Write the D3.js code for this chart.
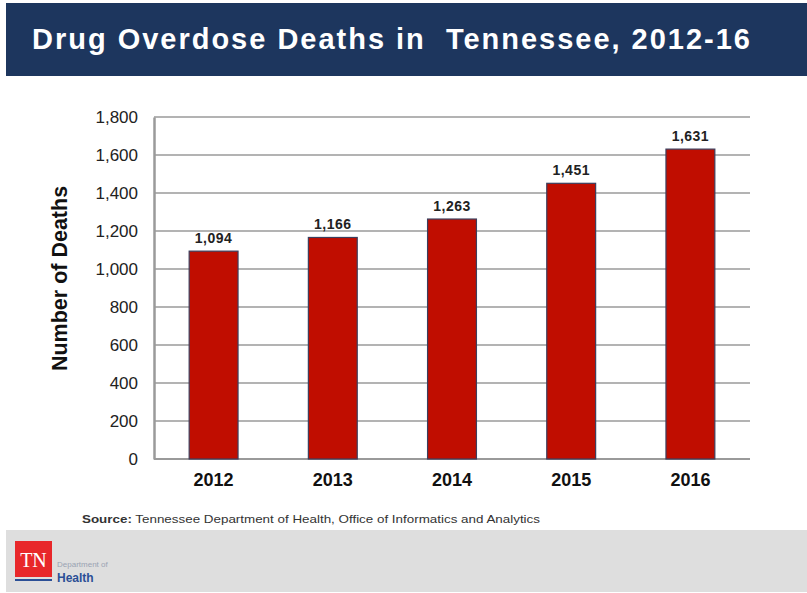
<!DOCTYPE html>
<html>
<head>
<meta charset="utf-8">
<script src="https://cdn.jsdelivr.net/npm/d3@7"></script>
<style>
  html, body { margin: 0; padding: 0; background: #fff; }
  svg { display: block; font-family: "Liberation Sans", Arial, sans-serif; }
</style>
</head>
<body>
<svg id="chart" width="807" height="593"></svg>
<script>
// Drug overdose deaths in Tennessee, by year
const years = ["2012", "2013", "2014", "2015", "2016"];
const deaths = [1094, 1166, 1263, 1451, 1631];
const yTicks = [0, 200, 400, 600, 800, 1000, 1200, 1400, 1600, 1800];

const svg = d3.select("#chart");
const W = 807, H = 593;

// Header band
svg.append("rect").attr("x", 6).attr("y", 3).attr("width", W - 6).attr("height", 73)
  .attr("fill", "#1d365e");
svg.append("text").attr("x", 32).attr("y", 49)
  .attr("fill", "#fff").attr("font-weight", "bold").attr("font-size", 29)
  .style("white-space", "pre")
  .attr("textLength", 718).attr("lengthAdjust", "spacing")
  .text("Drug Overdose Deaths in  Tennessee, 2012-16");

// Plot area
const m = { left: 154, right: 750, top: 117, bottom: 459 };
const x = d3.scaleBand().domain(years).range([m.left, m.right]).paddingInner(0.59).paddingOuter(0.295);
const y = d3.scaleLinear().domain([0, 1800]).range([m.bottom, m.top]);

// Horizontal gridlines
svg.append("g").selectAll("line").data(yTicks.filter(d => d > 0)).join("line")
  .attr("x1", m.left).attr("x2", m.right)
  .attr("y1", d => y(d)).attr("y2", d => y(d))
  .attr("stroke", "#9a9a9a").attr("stroke-width", 1.5);

// Y axis
const yAxis = svg.append("g").attr("transform", `translate(${m.left},0)`)
  .call(d3.axisLeft(y).tickValues(yTicks).tickSize(0).tickPadding(16).tickFormat(d3.format(",")));
yAxis.select(".domain").attr("stroke", "#9a9a9a").attr("stroke-width", 2.5);
yAxis.selectAll("text").attr("font-size", 17).attr("fill", "#222")
  .attr("font-family", "Liberation Sans, Arial, sans-serif");

// X axis
const xAxis = svg.append("g").attr("transform", `translate(0,${m.bottom})`)
  .call(d3.axisBottom(x).tickSize(0).tickPadding(14));
xAxis.select(".domain").attr("stroke", "#9a9a9a").attr("stroke-width", 2)
  .attr("d", `M${m.left},0H${m.right}`);
xAxis.selectAll("text").attr("font-size", 18).attr("font-weight", "bold").attr("fill", "#111")
  .attr("font-family", "Liberation Sans, Arial, sans-serif");

// Bars
svg.append("g").selectAll("rect").data(years).join("rect")
  .attr("x", d => x(d)).attr("width", x.bandwidth())
  .attr("y", (d, i) => y(deaths[i])).attr("height", (d, i) => y(0) - y(deaths[i]))
  .attr("fill", "#c00d00").attr("stroke", "#3b3f5e").attr("stroke-width", 1.2);

// Value labels
svg.append("g").selectAll("text").data(years).join("text")
  .attr("x", d => x(d) + x.bandwidth() / 2)
  .attr("y", (d, i) => y(deaths[i]) - 8)
  .attr("text-anchor", "middle").attr("font-size", 14).attr("font-weight", "bold").attr("fill", "#222")
  .attr("letter-spacing", 0.5)
  .text((d, i) => d3.format(",")(deaths[i]));

// Y axis title
svg.append("text").attr("transform", "translate(67,278.5) rotate(-90)")
  .attr("text-anchor", "middle").attr("font-size", 21.5).attr("font-weight", "bold").attr("fill", "#111")
  .text("Number of Deaths");

// Source note
const src = svg.append("text").attr("x", 82).attr("y", 523).attr("font-size", 11).attr("fill", "#333")
  .attr("textLength", 458).attr("lengthAdjust", "spacingAndGlyphs");
src.append("tspan").attr("font-weight", "bold").text("Source:");
src.append("tspan").text(" Tennessee  Department of Health, Office of Informatics and Analytics");

// Footer band with department logo
svg.append("rect").attr("x", 6).attr("y", 530).attr("width", W - 6).attr("height", 62).attr("fill", "#dedede");
svg.append("rect").attr("x", 15).attr("y", 541).attr("width", 37).attr("height", 36).attr("fill", "#e8272a");
svg.append("text").attr("x", 33.5).attr("y", 567).attr("text-anchor", "middle")
  .attr("font-family", "Liberation Serif, Times New Roman, serif").attr("font-size", 20)
  .attr("fill", "#fff").text("TN");
svg.append("rect").attr("x", 15).attr("y", 579).attr("width", 37).attr("height", 2).attr("fill", "#2b4f96");
svg.append("text").attr("x", 57).attr("y", 567).attr("font-size", 8).attr("fill", "#9aa3b3")
  .text("Department of");
svg.append("text").attr("x", 57).attr("y", 582).attr("font-size", 12).attr("font-weight", "bold")
  .attr("fill", "#2b4f96").text("Health");
</script>
</body>
</html>
